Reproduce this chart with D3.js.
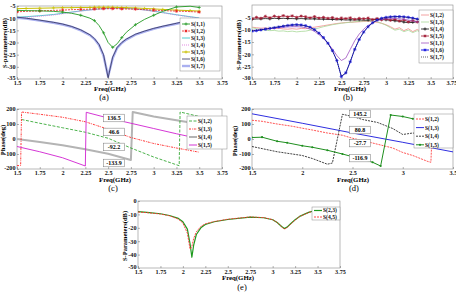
<!DOCTYPE html>
<html><head><meta charset="utf-8">
<script src="https://cdn.jsdelivr.net/npm/d3@7"></script>
<style>
body{margin:0;background:#fff}
svg text{font-family:"Liberation Serif","Times New Roman",serif}
</style></head><body>
<svg id="fig" width="456" height="293"></svg>
<script>
// ---- panel (a) ----
var aFreq = [1.5,1.6,1.75,1.9,2,2.1,2.2,2.3,2.35,2.4,2.45,2.5,2.55,2.6,2.65,2.7,2.8,2.9,3,3.1,3.25,3.4,3.5];
var aS11 = [-6.8,-6.9,-7,-7.2,-7.5,-8,-8.8,-10,-11,-13,-16,-20,-22,-20.5,-18,-15.8,-12.7,-10.5,-8.8,-7.2,-5.4,-5.1,-5.6];
var aS12 = [-7.4,-7.2,-7,-6.8,-6.7,-6.5,-6.4,-6.3,-6.2,-6.2,-6.1,-6.1,-6.1,-6.1,-6.2,-6.2,-6.3,-6.5,-6.7,-6.9,-7.1,-7.3,-7.5];
var aS13 = [-9.6,-9.4,-9,-8.5,-8,-7.5,-7,-6.6,-6.4,-6.2,-6.1,-6,-5.9,-5.9,-5.9,-6,-6.2,-6.6,-7.1,-7.7,-8.6,-9.4,-9.9];
var aS14 = [-9.8,-9.6,-9.2,-8.7,-8.2,-7.6,-7.1,-6.7,-6.5,-6.3,-6.2,-6.1,-6,-6,-6,-6.1,-6.3,-6.7,-7.2,-7.8,-8.7,-9.5,-10];
var aS15 = [-6.1,-6,-5.9,-5.8,-5.7,-5.7,-5.6,-5.6,-5.5,-5.5,-5.5,-5.5,-5.5,-5.6,-5.6,-5.7,-5.8,-6,-6.2,-6.4,-6.7,-6.9,-7.1];
var aS16 = [-9.6,-10,-10.8,-11.7,-12.4,-13.4,-14.8,-16.8,-18.4,-20.8,-25,-34.5,-26,-22,-20,-18.6,-16.6,-15.3,-14.2,-13.3,-12.1,-10.8,-10.1];
var aS17 = [-9.8,-10.2,-11,-11.9,-12.6,-13.6,-15,-17,-18.6,-21,-25.5,-34,-26.5,-22.2,-20.2,-18.8,-16.8,-15.5,-14.4,-13.5,-12.3,-11,-10.3];

// ---- panel (b) ----
var bFreq = [1.5,1.55,1.6,1.65,1.7,1.75,1.8,1.85,1.9,1.95,2,2.05,2.1,2.15,2.2,2.25,2.3,2.35,2.4,2.45,2.5,2.55,2.6,2.65,2.7,2.75,2.8,2.85,2.9,2.95,3,3.05,3.1,3.15,3.2,3.25,3.3,3.35,3.4,3.45,3.5];
var bS12 = [-9,-9.2,-9.4,-9.3,-9.5,-9.6,-9.4,-9.7,-9.8,-9.6,-9.8,-9.5,-9.6,-9.2,-9,-8.7,-8.4,-8.1,-7.8,-7.5,-7.3,-7.1,-7,-6.9,-6.8,-6.7,-6.6,-6.8,-7,-7.4,-8,-8.8,-9.8,-9.2,-10.4,-9.6,-10.8,-9.9,-11,-10.2,-10.6];
var bS13 = [-9.2,-9.6,-10,-10.2,-10.4,-10.3,-10.6,-10.5,-10.8,-10.6,-10.9,-10.7,-10.6,-10.2,-9.8,-9.3,-8.8,-8.4,-8,-7.7,-7.4,-7.2,-7,-6.8,-6.6,-6.5,-6.4,-6.5,-6.8,-7.4,-8.2,-9.2,-10.2,-9.8,-10.8,-10.2,-11.2,-10.4,-11.3,-10.6,-11];
var bS14 = [-5.8,-5.7,-5.6,-5.5,-5.6,-5.4,-5.5,-5.4,-5.5,-5.5,-5.6,-5.5,-5.6,-5.7,-5.6,-5.8,-5.7,-5.9,-5.8,-6,-5.9,-6.1,-6,-6.1,-6,-6.2,-6.1,-6,-5.8,-5.9,-6,-6.2,-6.4,-6.6,-6.9,-7.2,-7,-6.8,-7.1,-7.4,-7.2];
var bS15 = [-5.6,-5,-5.4,-4.6,-5.2,-4.5,-4.9,-4.3,-4.8,-4.4,-5,-4.5,-4.8,-5.2,-4.7,-5.3,-5,-5.4,-5.1,-5.6,-5.3,-5.5,-5.2,-5.8,-5.4,-5.6,-5.3,-5.9,-5.5,-6,-5.6,-6.2,-5.8,-6.5,-6,-6.8,-6.3,-6.9,-6.4,-7.2,-6.8];
var bS11 = [-10.5,-10.3,-10,-9.8,-9.6,-9.4,-9.2,-9,-8.9,-8.8,-8.8,-8.9,-9.2,-9.8,-10.7,-12,-13.6,-15.5,-17.8,-20.5,-22.5,-21.5,-18,-14.5,-11.8,-9.8,-8.3,-7.2,-6.4,-5.9,-5.6,-5.5,-5.5,-5.6,-5.8,-6.1,-6.5,-6.9,-7.3,-7.7,-8];
var bS16 = [-10.6,-10.4,-10.1,-9.8,-9.5,-9.2,-8.9,-8.6,-8.3,-8.1,-8,-8.1,-8.4,-9,-10,-11.4,-13.2,-15.5,-18.5,-22.5,-29,-27.5,-23,-18,-14,-11,-8.8,-7.2,-6.1,-5.4,-5,-4.8,-4.7,-4.7,-4.8,-5,-5.3,-5.7,-6.1,-6.6,-7.1];
var bS17 = [-10.4,-10.2,-10,-9.7,-9.4,-9.1,-8.8,-8.5,-8.3,-8.1,-8.1,-8.2,-8.5,-9.1,-10.1,-11.5,-13.3,-15.6,-18.6,-22.6,-28.8,-27.8,-22.8,-17.9,-13.9,-11,-8.8,-7.3,-6.2,-5.5,-5.1,-4.9,-4.8,-4.8,-4.9,-5.1,-5.4,-5.8,-6.2,-6.7,-7.2];

// ---- panel (c) phase ----
var cS12x = [1.55,1.75,2,2.25,2.5,2.75,3,3.28,3.29,3.5];
var cS12y = [130,105,75,45,5,-60,-120,-178,180,150];
var cS13x = [1.5,1.54,1.55,1.75,2,2.25,2.5,2.75,3,3.25,3.5];
var cS13y = [-178,-176,180,165,145,115,65,10,-30,-60,-88];
var cS14x = [1.5,1.75,2,2.25,2.5,2.75,2.77,3,3.25,3.5];
var cS14y = [0,-20,-42,-68,-98,-140,180,150,125,100];
var cS15x = [1.5,1.75,2,2.25,2.26,2.5,2.75,3,3.25,3.5];
var cS15y = [-50,-85,-125,-180,178,140,105,70,35,2];
var cNotes = ["136.5","46.6","-92.2","-133.9"];
var cNoteVal = [140,47,-53,-160];

// ---- panel (d) phase ----
var dS12x = [1.5,1.6,1.75,1.9,2,2.1,2.25,2.4,2.5,2.6,2.75,2.9,3,3.1,3.25,3.28,3.3,3.4,3.5];
var dS12y = [125,118,100,85,72,60,40,25,5,-10,-35,-60,-90,-110,-150,-155,160,162,162];
var dS13x = [1.5,2,2.5,3,3.5];
var dS13y = [168,105,40,-22,-86];
var dS14x = [1.5,1.75,2,2.1,2.25,2.3,2.4,2.5,2.6,2.75,2.9,3,3.05,3.1,3.25,3.5];
var dS14y = [-50,-85,-110,-130,-168,-160,165,150,130,110,70,30,35,40,25,10];
var dS15x = [1.5,1.6,1.75,1.85,2,2.1,2.25,2.4,2.5,2.6,2.7,2.78,2.88,3,3.1,3.25,3.35,3.5];
var dS15y = [10,12,-15,-25,-45,-55,-75,-100,-118,-135,-155,-180,160,150,135,125,110,100];
var dNotes = ["145.2","80.8","-27.7","-116.9"];
var dNoteVal = [167,60,-27,-127];

// ---- panel (e) ----
var eFreq = [1.5,1.6,1.75,1.85,1.95,2,2.05,2.08,2.1,2.12,2.15,2.2,2.25,2.35,2.5,2.75,2.9,3,3.05,3.1,3.13,3.16,3.2,3.25,3.3,3.4,3.5];
var eS23 = [-8,-8.5,-9.5,-10.8,-13,-15.5,-21,-32,-42,-33,-25,-20,-17.5,-15.5,-13.8,-12,-12.5,-14,-16,-19,-20.5,-19.5,-17,-14,-11.5,-8.5,-6.5];
var eS45 = [-8.2,-8.7,-9.7,-11,-13.5,-16.5,-24,-36,-34,-28,-23,-19,-17,-15.3,-13.6,-11.9,-12.4,-13.9,-16,-19.3,-21,-20,-17.3,-14.2,-11.6,-8.6,-6.6];

var xTicksWide = [1.5,1.75,2,2.25,2.5,2.75,3,3.25,3.5,3.75];
var xTicksD = [1.5,2,2.5,3,3.5];

var svg = d3.select("#fig");
var clipN = 0;

function marker(g, type, cx, cy, color) {
  var s = 1.6, p;
  if (type == "dot") {
    g.append("circle").attr("cx", cx).attr("cy", cy).attr("r", 1.1).attr("fill", color);
    return;
  }
  if (type == "plus") p = "M" + (cx-s) + "," + cy + "h" + 2*s + "M" + cx + "," + (cy-s) + "v" + 2*s;
  else if (type == "x") p = "M" + (cx-s) + "," + (cy-s) + "l" + 2*s + "," + 2*s + "M" + (cx-s) + "," + (cy+s) + "l" + 2*s + "," + (-2*s);
  else p = "M" + (cx-s) + "," + cy + "h" + 2*s + "M" + cx + "," + (cy-s) + "v" + 2*s +
           "M" + (cx-s*0.7) + "," + (cy-s*0.7) + "l" + 1.4*s + "," + 1.4*s + "M" + (cx-s*0.7) + "," + (cy+s*0.7) + "l" + 1.4*s + "," + (-1.4*s);
  g.append("path").attr("d", p).attr("stroke", color).attr("stroke-width", 0.7).attr("fill", "none");
}

function panel(p) {
  var g = svg.append("g");
  var x = d3.scaleLinear().domain(p.xDomain).range([p.left, p.right]);
  var y = d3.scaleLinear().domain(p.yDomain).range([p.bottom, p.top]);
  var cid = "clip" + (clipN++);
  svg.append("clipPath").attr("id", cid).append("rect")
    .attr("x", p.left).attr("y", p.top - 1).attr("width", p.right - p.left).attr("height", p.bottom - p.top + 2);

  g.append("rect").attr("x", p.left).attr("y", p.top)
    .attr("width", p.right - p.left).attr("height", p.bottom - p.top)
    .attr("fill", "none").attr("stroke", "#8a8a8a").attr("stroke-width", 0.6);

  var xa = g.append("g").attr("transform", "translate(0," + p.bottom + ")")
    .call(d3.axisBottom(x).tickValues(p.xTicks).tickSize(-2).tickSizeOuter(0).tickPadding(2.5).tickFormat(function(d){ return d; }));
  var ya = g.append("g").attr("transform", "translate(" + p.left + ",0)")
    .call(d3.axisLeft(y).tickValues(p.yTicks).tickSize(-2).tickSizeOuter(0).tickPadding(1.5).tickFormat(function(d){ return d; }));
  [xa, ya].forEach(function(a) {
    a.select(".domain").remove();
    a.selectAll("line").attr("stroke", "#666").attr("stroke-width", 0.5);
    a.selectAll("text").attr("font-size", 6.2).attr("font-weight", "bold").attr("fill", "#111")
      .style("font-family", "Liberation Serif");
  });
  xa.selectAll("text").attr("dy", "0.62em");
  // lowest y label sits a little above the x labels, as in the figure
  ya.selectAll(".tick").filter(function(d){ return d == p.yDomain[0]; })
    .select("text").attr("dy", "0.05em");
  // last x label kept inside the page
  xa.selectAll(".tick").filter(function(d){ return x(d) > 448; })
    .select("text").attr("text-anchor", "end").attr("dx", "0.6em");

  var line = d3.line().x(function(d){ return x(d[0]); }).y(function(d){ return y(d[1]); });
  var lines = g.append("g").attr("clip-path", "url(#" + cid + ")");
  p.series.forEach(function(s) {
    var pts = s.x.map(function(v, i){ return [v, s.y[i]]; });
    lines.append("path").datum(pts).attr("d", line)
      .attr("fill", "none").attr("stroke", s.color).attr("stroke-width", s.w || 0.8)
      .attr("stroke-dasharray", s.dash || null).attr("stroke-linejoin", "round");
    if (s.marker) {
      pts.forEach(function(d, i) {
        if (i % (s.every || 1) == 0) marker(lines, s.marker, x(d[0]), y(d[1]), s.color);
      });
    }
  });

  // annotations
  if (p.notes) {
    p.notes.forEach(function(t, i) {
      var nx = x(p.noteX), ny = y(p.noteVal[i]);
      g.append("rect").attr("x", nx).attr("y", ny - 3.8).attr("width", 21).attr("height", 7.6)
        .attr("fill", "#fff").attr("stroke", "#777").attr("stroke-width", 0.5);
      g.append("text").attr("x", nx + 10.5).attr("y", ny).attr("dy", "0.35em")
        .attr("text-anchor", "middle").attr("font-size", 6).attr("font-weight", "bold").text(t);
    });
  }

  // legend
  var L = p.legend;
  var lg = g.append("g");
  lg.append("rect").attr("x", L.x).attr("y", L.y).attr("width", L.w).attr("height", L.h)
    .attr("fill", "#fff").attr("stroke", "#8a8a8a").attr("stroke-width", 0.5);
  p.series.slice().sort(function(a, b){ return a.order - b.order; }).forEach(function(s, i) {
    var ly = L.row0 + i * L.dy;
    lg.append("line").attr("x1", L.x + 2).attr("x2", L.x + 10).attr("y1", ly).attr("y2", ly)
      .attr("stroke", s.color).attr("stroke-width", s.w || 0.8).attr("stroke-dasharray", s.dash || null);
    if (s.marker) marker(lg, s.marker, L.x + 6, ly, s.color);
    lg.append("text").attr("x", L.x + 11).attr("y", ly).attr("dy", "0.35em")
      .attr("font-size", 5.6).attr("font-weight", "bold").attr("fill", "#111").text(s.name);
  });

  // labels
  g.append("text").attr("x", p.xlab[0]).attr("y", p.xlab[1]).attr("text-anchor", "middle")
    .attr("font-size", 6.8).attr("font-weight", "bold").text("Freq(GHz)");
  g.append("text").attr("transform", "translate(" + p.ylab[0] + "," + p.ylab[1] + ") rotate(-90)")
    .attr("text-anchor", "middle").attr("font-size", 6.5).attr("font-weight", "bold").text(p.ylabText);
  g.append("text").attr("x", p.title[0]).attr("y", p.title[1]).attr("text-anchor", "middle")
    .attr("font-size", 8.5).text(p.titleText);
}

panel({
  left: 17, right: 222, top: 6, bottom: 79,
  xDomain: [1.5, 3.75], yDomain: [-35, -5],
  xTicks: xTicksWide, yTicks: [-35,-30,-25,-20,-15,-10,-5],
  series: [
    {name: "S(1,3)", x: aFreq, y: aS13, color: "#3cc8c8", w: 0.9, order: 3},
    {name: "S(1,4)", x: aFreq, y: aS14, color: "#e07ae0", w: 0.9, dash: "1,1", order: 4},
    {name: "S(1,7)", x: aFreq, y: aS17, color: "#aab0f0", w: 2.4, order: 7},
    {name: "S(1,6)", x: aFreq, y: aS16, color: "#30305a", w: 0.8, order: 6},
    {name: "S(1,5)", x: aFreq, y: aS15, color: "#c8c000", w: 1, marker: "plus", order: 5},
    {name: "S(1,2)", x: aFreq, y: aS12, color: "#e82020", w: 0.8, dash: "2,1", marker: "star", every: 2, order: 2},
    {name: "S(1,1)", x: aFreq, y: aS11, color: "#239a23", w: 0.9, marker: "plus", every: 2, order: 1}
  ],
  legend: {x: 180, y: 18, w: 40, h: 53, row0: 24, dy: 7},
  xlab: [110, 91], ylab: [7, 43], ylabText: "S-parameters(dB)",
  title: [104, 100], titleText: "(a)"
});

panel({
  left: 252, right: 453, top: 5, bottom: 79,
  xDomain: [1.5, 3.75], yDomain: [-30, 0],
  xTicks: xTicksWide, yTicks: [-30,-25,-20,-15,-10,-5],
  series: [
    {name: "S(1,2)", x: bFreq, y: bS12, color: "#f08a8a", w: 0.8, order: 1},
    {name: "S(1,3)", x: bFreq, y: bS13, color: "#a8d898", w: 0.8, order: 2},
    {name: "S(1,4)", x: bFreq, y: bS14, color: "#111", w: 0.8, marker: "plus", every: 2, order: 3},
    {name: "S(1,5)", x: bFreq, y: bS15, color: "#a01830", w: 0.8, marker: "star", order: 4},
    {name: "S(1,1)", x: bFreq, y: bS11, color: "#a050c0", w: 0.8, order: 5},
    {name: "S(1,6)", x: bFreq, y: bS16, color: "#1a1ae0", w: 1, marker: "star", order: 6},
    {name: "S(1,7)", x: bFreq, y: bS17, color: "#222", w: 0.7, dash: "1,1", order: 7}
  ],
  legend: {x: 419, y: 10, w: 34, h: 53, row0: 15, dy: 7},
  xlab: [350, 91], ylab: [241, 45], ylabText: "S-Parameters(dB)",
  title: [348, 100], titleText: "(b)"
});

panel({
  left: 17, right: 222, top: 109, bottom: 169,
  xDomain: [1.5, 3.75], yDomain: [-200, 200],
  xTicks: xTicksWide, yTicks: [-200,-100,0,100,200],
  series: [
    {name: "S(1,4)", x: cS14x, y: cS14y, color: "#b4b4b4", w: 2, order: 3},
    {name: "S(1,2)", x: cS12x, y: cS12y, color: "#20a020", w: 0.8, dash: "3,1.5", order: 1},
    {name: "S(1,3)", x: cS13x, y: cS13y, color: "#ff2020", w: 0.9, dash: "2,1,0.8,1", order: 2},
    {name: "S(1,5)", x: cS15x, y: cS15y, color: "#d020d0", w: 0.9, order: 4}
  ],
  notes: cNotes, noteVal: cNoteVal, noteX: 2.45,
  legend: {x: 187, y: 116, w: 40, h: 33, row0: 121, dy: 8},
  xlab: [115, 182], ylab: [5, 140], ylabText: "Phase(deg)",
  title: [113, 191], titleText: "(c)"
});

panel({
  left: 252, right: 453, top: 109, bottom: 169,
  xDomain: [1.5, 3.5], yDomain: [-200, 200],
  xTicks: xTicksD, yTicks: [-200,-100,0,100,200],
  series: [
    {name: "S(1,3)", x: dS13x, y: dS13y, color: "#2e2ee0", w: 1, order: 2},
    {name: "S(1,2)", x: dS12x, y: dS12y, color: "#ff2a2a", w: 0.8, dash: "2,1", order: 1},
    {name: "S(1,4)", x: dS14x, y: dS14y, color: "#111", w: 0.8, dash: "2,1", order: 3},
    {name: "S(1,5)", x: dS15x, y: dS15y, color: "#1f8f1f", w: 1, marker: "dot", order: 4}
  ],
  notes: dNotes, noteVal: dNoteVal, noteX: 2.47,
  legend: {x: 414, y: 114, w: 39, h: 34, row0: 119, dy: 8.6},
  xlab: [353, 182], ylab: [237, 141], ylabText: "Phase(deg)",
  title: [354, 191], titleText: "(d)"
});

panel({
  left: 138, right: 340, top: 201, bottom: 268,
  xDomain: [1.5, 3.75], yDomain: [-50, 0],
  xTicks: xTicksWide, yTicks: [-50,-40,-30,-20,-10,0],
  series: [
    {name: "S(2,3)", x: eFreq, y: eS23, color: "#1f9a1f", w: 1.2, order: 1},
    {name: "S(4,5)", x: eFreq, y: eS45, color: "#ff3030", w: 0.9, dash: "2,1", order: 2}
  ],
  legend: {x: 312, y: 207, w: 28, h: 13, row0: 210.5, dy: 6.5},
  xlab: [238, 280], ylab: [127, 236], ylabText: "S-Parameters(dB)",
  title: [242, 290], titleText: "(e)"
});
</script>
</body></html>
